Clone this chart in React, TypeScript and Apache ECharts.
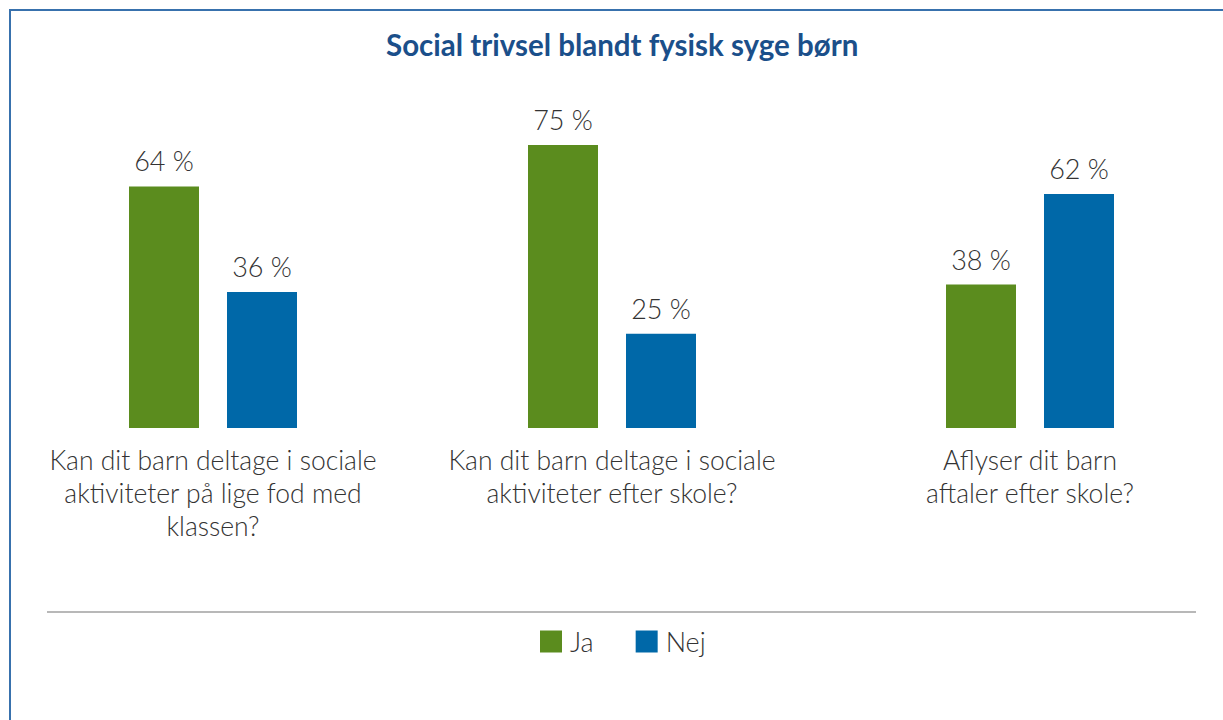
import React, { useEffect, useRef } from "react";
import * as echarts from "echarts";

const titleText = "Social trivsel blandt fysisk syge børn";
const categories = [
  "Kan dit barn deltage i sociale\naktiviteter på lige fod med\nklassen?",
  "Kan dit barn deltage i sociale\naktiviteter efter skole?",
  "Aflyser dit barn\naftaler efter skole?",
];
const seriesNames = ["Ja", "Nej"];
const jaValues = [64, 75, 38];
const nejValues = [36, 25, 62];
const seriesColors = ["#5b8c1e", "#0068a8"];
const groupCenters = [213, 612, 1030];

const FONT = "Lato";
const TEXT = "#333333";

export default function App() {
  const ref = useRef<HTMLDivElement>(null);
  useEffect(() => {
    if (!ref.current) return;
    const chart = echarts.init(ref.current, null, { renderer: "svg" });
    const grids = groupCenters.map((c) => ({
      left: c - 150,
      width: 300,
      top: 50.5,
      height: 377.5,
    }));
    const xAxes = categories.map((cat, i) => ({
      type: "category" as const,
      gridIndex: i,
      data: [cat],
      axisLine: { show: false },
      axisTick: { show: false },
      axisLabel: {
        interval: 0,
        color: TEXT,
        fontFamily: FONT,
        fontWeight: 300,
        fontSize: 26.5,
        lineHeight: 33,
        margin: 15,
      },
    }));
    const yAxes = categories.map((_, i) => ({
      type: "value" as const,
      gridIndex: i,
      min: 0,
      max: 100,
      show: false,
    }));
    const series: any[] = [];
    categories.forEach((_, i) => {
      [jaValues, nejValues].forEach((vals, s) => {
        series.push({
          type: "bar",
          name: seriesNames[s],
          xAxisIndex: i,
          yAxisIndex: i,
          data: [vals[i]],
          barWidth: 70,
          barGap: "40%",
          itemStyle: { color: seriesColors[s] },
          label: {
            show: true,
            position: "top",
            distance: 12,
            formatter: "{c} %",
            color: TEXT,
            fontFamily: FONT,
            fontWeight: 300,
            fontSize: 27,
          },
        });
      });
    });
    chart.setOption({
      animation: false,
      color: seriesColors,
      title: {
        text: titleText,
        left: 386,
        top: 29,
        padding: 0,
        textStyle: {
          color: "#1b4f8a",
          fontFamily: FONT,
          fontWeight: "bold",
          fontSize: 29.5,
        },
      },
      legend: {
        data: seriesNames,
        left: 540,
        top: 628,
        padding: 0,
        itemWidth: 22,
        itemHeight: 22,
        itemGap: 42,
        icon: "rect",
        textStyle: {
          color: TEXT,
          fontFamily: FONT,
          fontWeight: 300,
          fontSize: 27,
          padding: [0, 0, 0, 3],
        },
      },
      grid: grids,
      xAxis: xAxes,
      yAxis: yAxes,
      series,
      graphic: [
        {
          type: "rect",
          shape: { x: 10, y: 10, width: 1400, height: 900 },
          style: { fill: "none", stroke: "#3871ad", lineWidth: 2 },
          silent: true,
        },
        {
          type: "line",
          shape: { x1: 47, y1: 612, x2: 1196, y2: 612 },
          style: { stroke: "#a0a0a0", lineWidth: 1.5 },
          silent: true,
        },
      ],
    });
    return () => chart.dispose();
  }, []);
  return (
    <div
      ref={ref}
      style={{ position: "fixed", left: 0, top: 0, width: 1223, height: 720, background: "#fff" }}
    />
  );
}
